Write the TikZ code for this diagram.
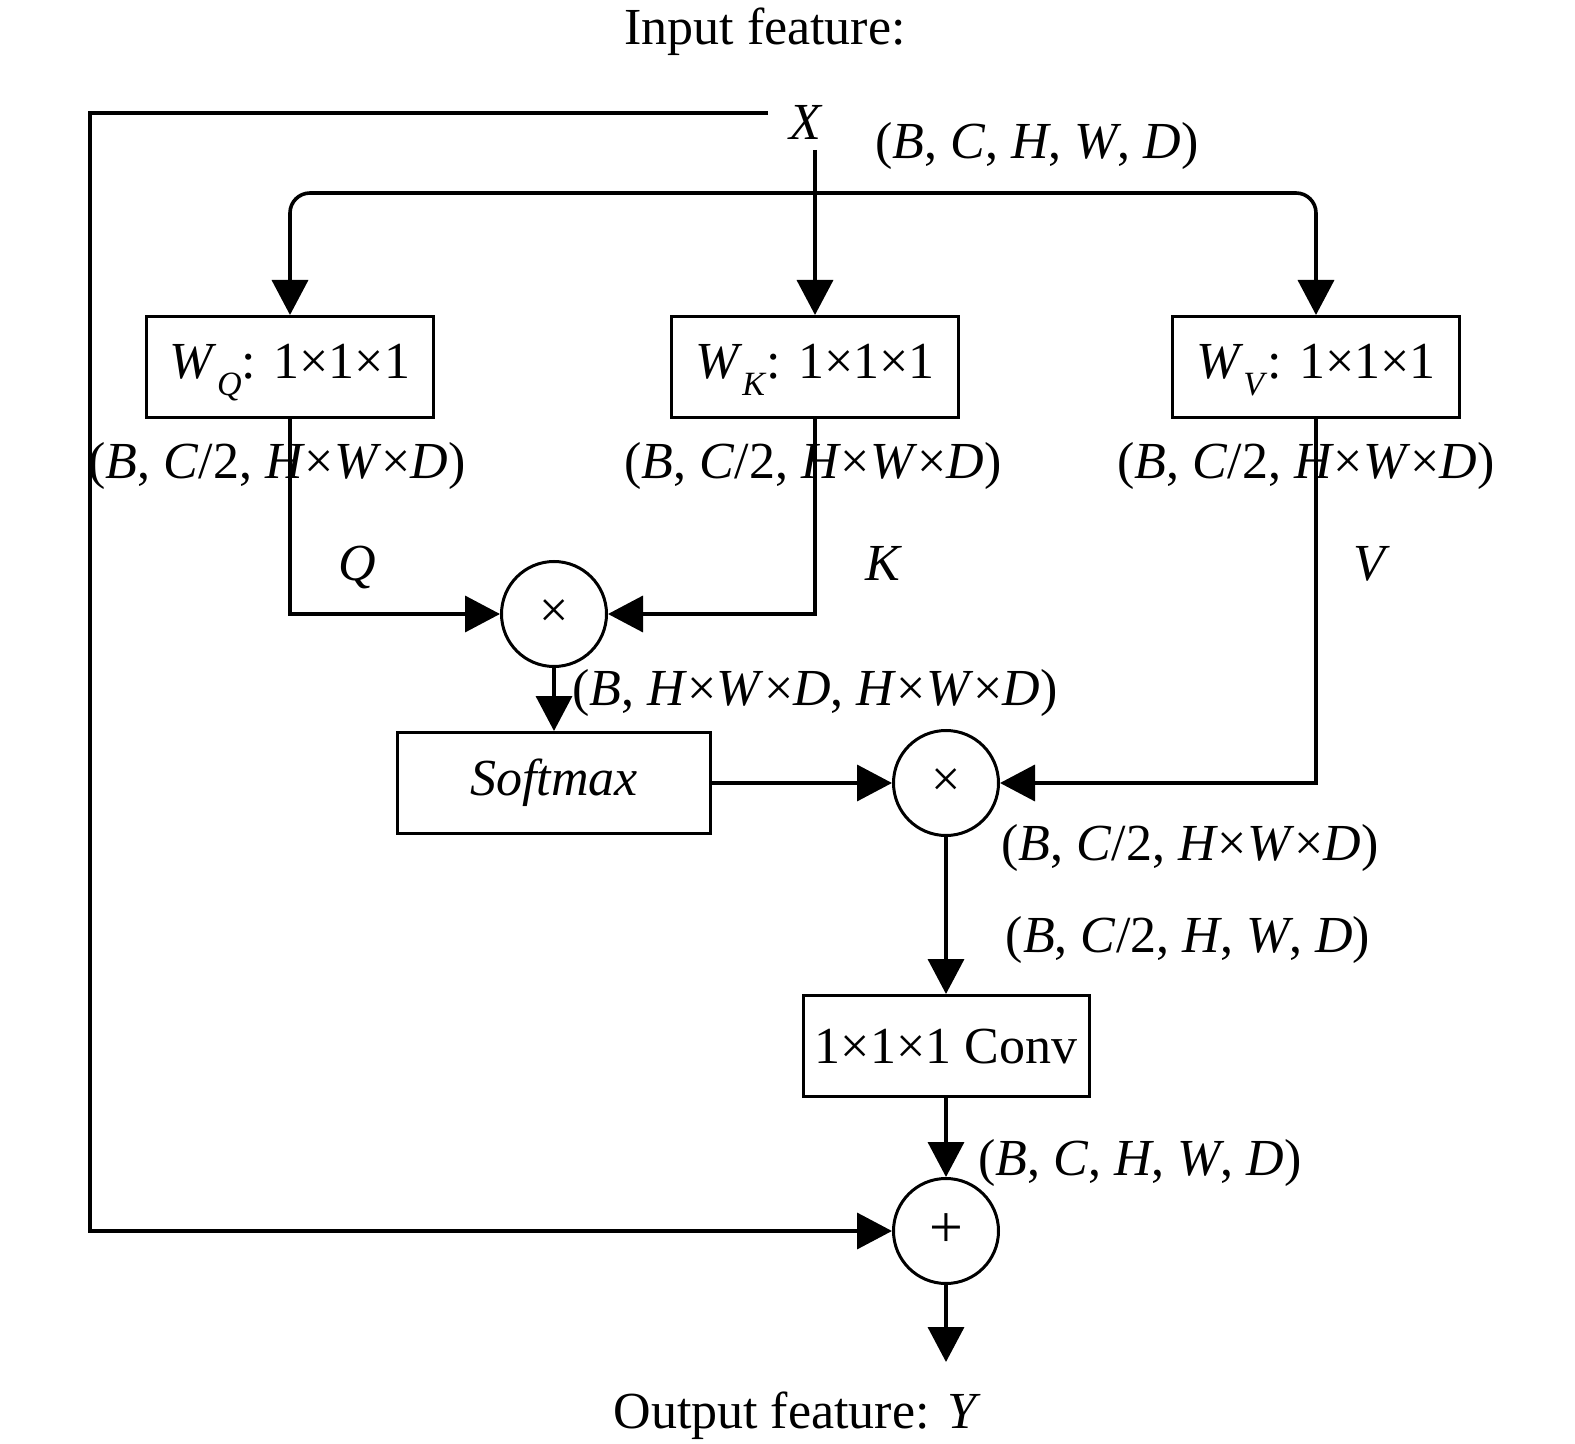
\documentclass[tikz,border=0pt]{standalone}
\usepackage{fontspec}
\setmainfont{Liberation Serif}
\usetikzlibrary{arrows.meta}
\newcommand{\sbs}[1]{\raisebox{-0.32em}{\fontsize{17}{17}\selectfont\textit{#1}}}
\begin{document}
\begin{tikzpicture}[x=0.5pt,y=-0.5pt,
  every node/.style={font=\fontsize{26}{30}\selectfont, inner sep=0pt, text height=17pt, text depth=0pt},
  box/.style={draw, line width=1.5pt, minimum width=143.5pt, minimum height=50.5pt, text depth=5pt},
  op/.style={draw, circle, line width=1.5pt, minimum size=52.5pt, text height=, text depth=},
  conn/.style={line width=1.8pt, -{Triangle[length=17.5pt,width=18pt]}}]
\useasboundingbox (0,0) rectangle (1575,1444);

\node (in) at (765,28) {Input feature:};
\node (x) at (806,123) {\textit{X}};
\node (xdim) at (1037,142) {(\textit{B}, \textit{C}, \textit{H}, \textit{W}, \textit{D})};

\node[box] (wq) at (290,367) {\textit{W}\sbs{Q}: 1×1×1};
\node[box] (wk) at (815,367) {\textit{W}\sbs{K}: 1×1×1};
\node[box] (wv) at (1316,367) {\textit{W}\sbs{V}: 1×1×1};

\node (dq) at (277,462) {(\textit{B}, \textit{C}/2, \textit{H}×\textit{W}×\textit{D})};
\node (dk) at (813,462) {(\textit{B}, \textit{C}/2, \textit{H}×\textit{W}×\textit{D})};
\node (dv) at (1306,462) {(\textit{B}, \textit{C}/2, \textit{H}×\textit{W}×\textit{D})};

\node (q) at (357,564) {\textit{Q}};
\node (k) at (884,564) {\textit{K}};
\node (v) at (1372,564) {\textit{V}};

\node[op] (m1) at (554,614) {\fontsize{26}{26}\selectfont ×};
\node (d1) at (815,688) {(\textit{B}, \textit{H}×\textit{W}×\textit{D}, \textit{H}×\textit{W}×\textit{D})};

\node[box, minimum width=156.5pt] (soft) at (554,783) {\textit{Softmax}};
\node[op] (m2) at (946,783) {\fontsize{26}{26}\selectfont ×};

\node (d2) at (1190,843) {(\textit{B}, \textit{C}/2, \textit{H}×\textit{W}×\textit{D})};
\node (d3) at (1188,935) {(\textit{B}, \textit{C}/2, \textit{H}, \textit{W}, \textit{D})};

\node[box, minimum width=143pt, text depth=0pt] (conv) at (946,1046) {1×1×1 Conv};
\node (d4) at (1140,1158) {(\textit{B}, \textit{C}, \textit{H}, \textit{W}, \textit{D})};

\node[op] (plus) at (946,1231) {\fontsize{30}{30}\selectfont +};
\node (out) at (797,1411) {Output feature: \textit{Y}};

\coordinate (xl) at (768,113);
\coordinate (lc) at (90,113);
\coordinate (xs) at (815,150);
\coordinate (br) at (815,193);
\coordinate (yend) at (946,1362);

\draw[conn] (xl) -- (lc) -- (lc |- plus) -- (plus.west);
\draw[conn] (xs) -- (xs |- wk.north);
\draw[conn, rounded corners=10pt] (br) -| (wq.north);
\draw[conn, rounded corners=10pt] (br) -| (wv.north);
\draw[conn] (wq.south) |- (m1.west);
\draw[conn] (wk.south) |- (m1.east);
\draw[conn] (m1.south) -- (soft.north);
\draw[conn] (soft.east) -- (m2.west);
\draw[conn] (wv.south) |- (m2.east);
\draw[conn] (m2.south) -- (conv.north);
\draw[conn] (conv.south) -- (plus.north);
\draw[conn] (plus.south) -- (yend);
\end{tikzpicture}
\end{document}
